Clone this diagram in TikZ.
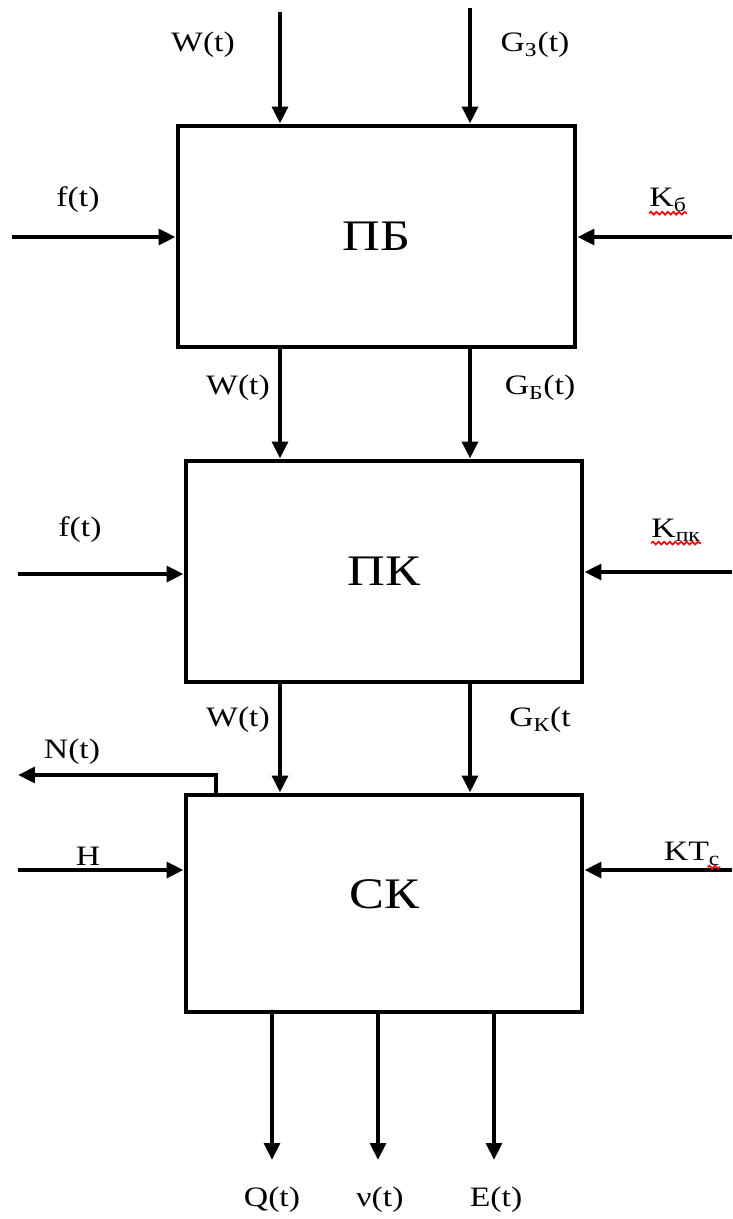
\documentclass[tikz,border=0pt]{standalone}
\usepackage{fontspec}
\setmainfont[FakeStretch=1.2]{Liberation Serif}
\usetikzlibrary{arrows.meta, decorations.pathmorphing}
\newcommand{\sbs}[1]{\textsubscript{#1}}

\begin{document}
\begin{tikzpicture}[x=0.025cm, y=-0.025cm,
    arr/.style={line width=3.4pt, -{Triangle[length=12pt,width=11pt]}},
    blok/.style={draw, line width=3.4pt, minimum width=9.9cm, inner sep=0pt, font=\fontsize{31}{31}\selectfont},
    lbl/.style={font=\fontsize{20}{20}\selectfont, inner sep=0pt},
    squig/.style={red, line width=1.2pt, decorate, decoration={snake, amplitude=1pt, segment length=4pt}}]
  \useasboundingbox (0,0) rectangle (732,1219);
  % blocks
  \node[blok, minimum width=9.925cm, minimum height=5.525cm] (pb) at (376.5,236.5) {ПБ};
  \node[blok, minimum height=5.525cm] (pk) at (384,571.5) {ПК};
  \node[blok, minimum height=5.425cm] (sk) at (384,903.5) {\raisebox{0.45cm}{СК}};
  % free ends
  \coordinate (wt) at (280,12);
  \coordinate (gz) at (470,8);
  \coordinate (f1) at (12,237);
  \coordinate (kb) at (732,237);
  \coordinate (f2) at (18,574);
  \coordinate (kpk) at (732,572);
  \coordinate (h) at (18,870);
  \coordinate (ktc) at (732,870);
  \coordinate (nb) at (216,775);
  \coordinate (nt) at (18,775);
  \coordinate (q) at (272,1160);
  \coordinate (nu) at (378,1160);
  \coordinate (e) at (494,1160);
  % connectors
  \draw[arr] (wt) -- (wt |- pb.north);
  \draw[arr] (gz) -- (gz |- pb.north);
  \draw[arr] (wt |- pb.south) -- (wt |- pk.north);
  \draw[arr] (gz |- pb.south) -- (gz |- pk.north);
  \draw[arr] (wt |- pk.south) -- (wt |- sk.north);
  \draw[arr] (gz |- pk.south) -- (gz |- sk.north);
  \draw[arr] (f1) -- (f1 -| pb.west);
  \draw[arr] (kb) -- (kb -| pb.east);
  \draw[arr] (f2) -- (f2 -| pk.west);
  \draw[arr] (kpk) -- (kpk -| pk.east);
  \draw[arr] (h) -- (h -| sk.west);
  \draw[arr] (ktc) -- (ktc -| sk.east);
  \draw[arr] (nb |- sk.north) -- (nb) -- (nt);
  \draw[arr] (q |- sk.south) -- (q);
  \draw[arr] (nu |- sk.south) -- (nu);
  \draw[arr] (e |- sk.south) -- (e);
  % labels
  \node[lbl] (w1) at (203,45) {W(t)};
  \node[lbl] (g1) at (535,45) {G\sbs{З}(t)};
  \node[lbl] (fl1) at (78,200) {f(t)};
  \node[lbl] (kbl) at (668,200) {K\sbs{б}};
  \node[lbl] (w2) at (238,388) {W(t)};
  \node[lbl] (g2) at (540,388) {G\sbs{Б}(t)};
  \node[lbl] (fl2) at (80,530) {f(t)};
  \node[lbl] (kpkl) at (676,530) {K\sbs{пк}};
  \node[lbl] (w3) at (238,720) {W(t)};
  \node[lbl] (g3) at (540,720) {G\sbs{К}(t};
  \node[lbl] (ntl) at (72,752) {N(t)};
  \node[lbl] (hl) at (88,856) {H};
  \node[lbl] (ktcl) at (692,854) {KT\sbs{c}};
  \node[lbl] (ql) at (272,1200) {Q(t)};
  \node[lbl] (nul) at (380,1200) {ν(t)};
  \node[lbl] (el) at (496,1200) {E(t)};
  % spelling marks
  \draw[squig] ([yshift=-1pt]kbl.south west) -- ([yshift=-1pt]kbl.south east);
  \draw[squig] ([yshift=-1pt]kpkl.south west) -- ([yshift=-1pt]kpkl.south east);
  \draw[squig] ([xshift=-9pt,yshift=-1pt]ktcl.south east) -- ([yshift=-1pt]ktcl.south east);
\end{tikzpicture}
\end{document}
